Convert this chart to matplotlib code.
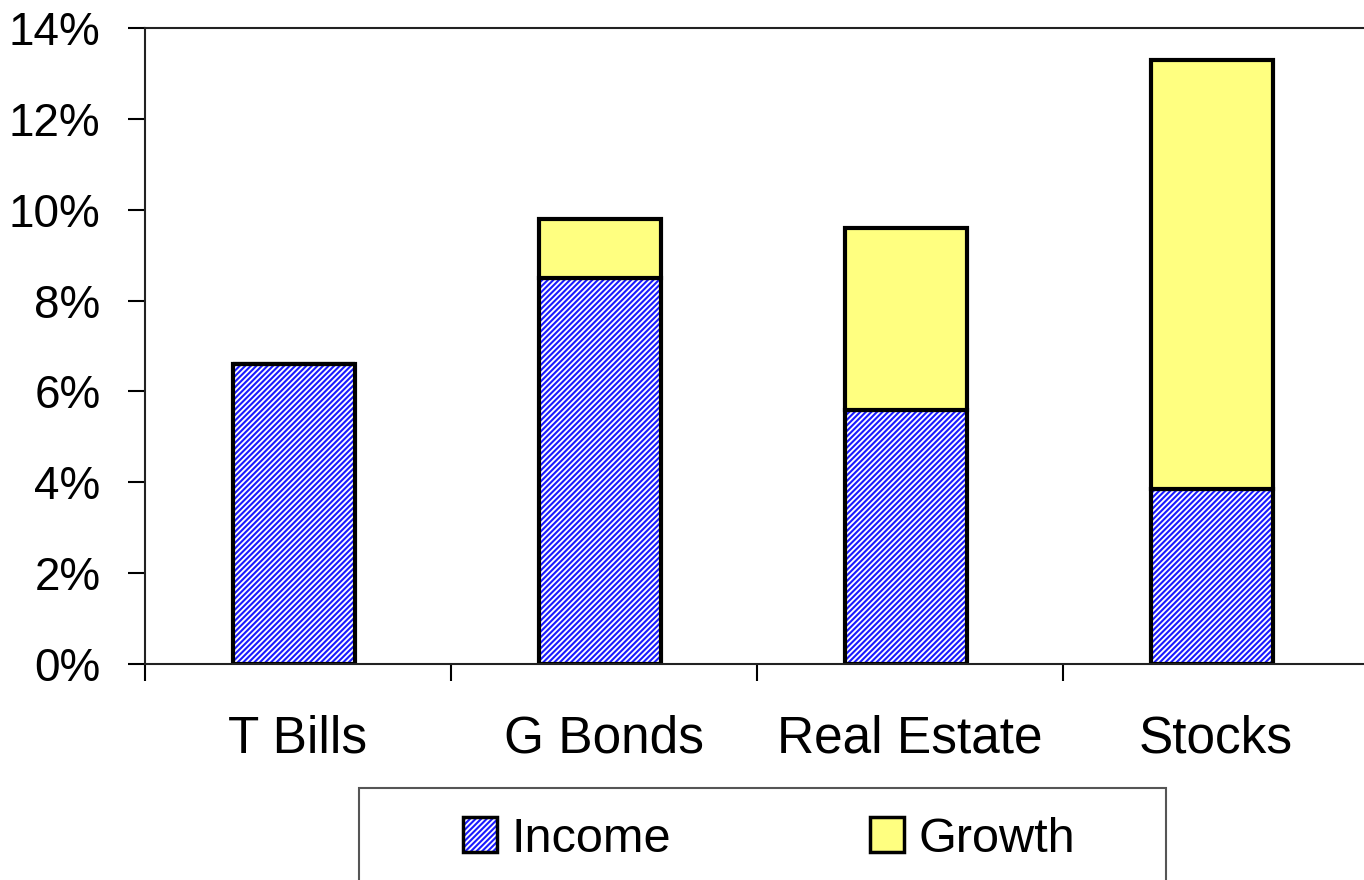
import matplotlib.pyplot as plt
from matplotlib.patches import Patch, Rectangle
from matplotlib.legend_handler import HandlerTuple

plt.rcParams['font.family'] = ['Liberation Sans', 'DejaVu Sans']
plt.rcParams['hatch.linewidth'] = 1.5

categories = ['T Bills', 'G Bonds', 'Real Estate', 'Stocks']
income = [6.6, 8.5, 5.6, 3.85]
growth = [0.0, 1.3, 4.0, 9.45]
yticks = [0, 2, 4, 6, 8, 10, 12, 14]

blue = '#1a1aff'
yellow = '#ffff80'
hatch = '//////'

fig = plt.figure(figsize=(13.64, 8.8), dpi=100)
ax = fig.add_axes([145 / 1364, 216 / 880, 1224 / 1364, 636 / 880])

x = [i - 0.013 for i in range(len(categories))]
w = 0.4
# hatched income bars: blue pattern on white, then a black outline on top
ax.bar(x, income, w, color='white', edgecolor=blue, hatch=hatch, linewidth=0)
ax.bar(x, income, w, fill=False, edgecolor='black', linewidth=3)
ax.bar(x, growth, w, bottom=income, color=yellow, edgecolor='black', linewidth=3)

ax.set_xlim(-0.5, len(categories) - 0.5)
ax.set_ylim(0, 14)
ax.set_yticks(yticks)
ax.set_yticklabels([f'{v}%' for v in yticks])
ax.set_xticks(range(len(categories)))
ax.set_xticklabels(categories)
ax.set_xticks([i - 0.5 for i in range(len(categories) + 1)], minor=True)

ax.tick_params(axis='y', length=12, width=1.5, direction='out', labelsize=33, pad=20)
ax.tick_params(axis='x', which='major', length=0, labelsize=37, pad=36)
ax.tick_params(axis='x', which='minor', length=12, width=1.5, direction='out')
for s in ax.spines.values():
    s.set_linewidth(1.5)
    s.set_color('#222222')

# legend box running off the bottom of the figure
fig.patches.append(Rectangle((359 / 1364, -0.05), 807 / 1364, 92 / 880 + 0.05,
                             transform=fig.transFigure, facecolor='white',
                             edgecolor='#555555', linewidth=1.5))
h_income = (Patch(facecolor='white', edgecolor=blue, hatch=hatch, linewidth=0),
            Patch(fill=False, edgecolor='black', linewidth=2.5))
h_growth = Patch(facecolor=yellow, edgecolor='black', linewidth=2.5)
fig.legend([h_income, h_growth], ['Income', 'Growth'],
           handler_map={tuple: HandlerTuple(ndivide=1, pad=0)},
           loc='center', bbox_to_anchor=(769 / 1364, 1 - 839 / 880), ncol=2,
           frameon=False, fontsize=35, handlelength=0.7, handleheight=0.7,
           handletextpad=0.3, columnspacing=4.1)

fig.savefig('out.png', dpi=100)
